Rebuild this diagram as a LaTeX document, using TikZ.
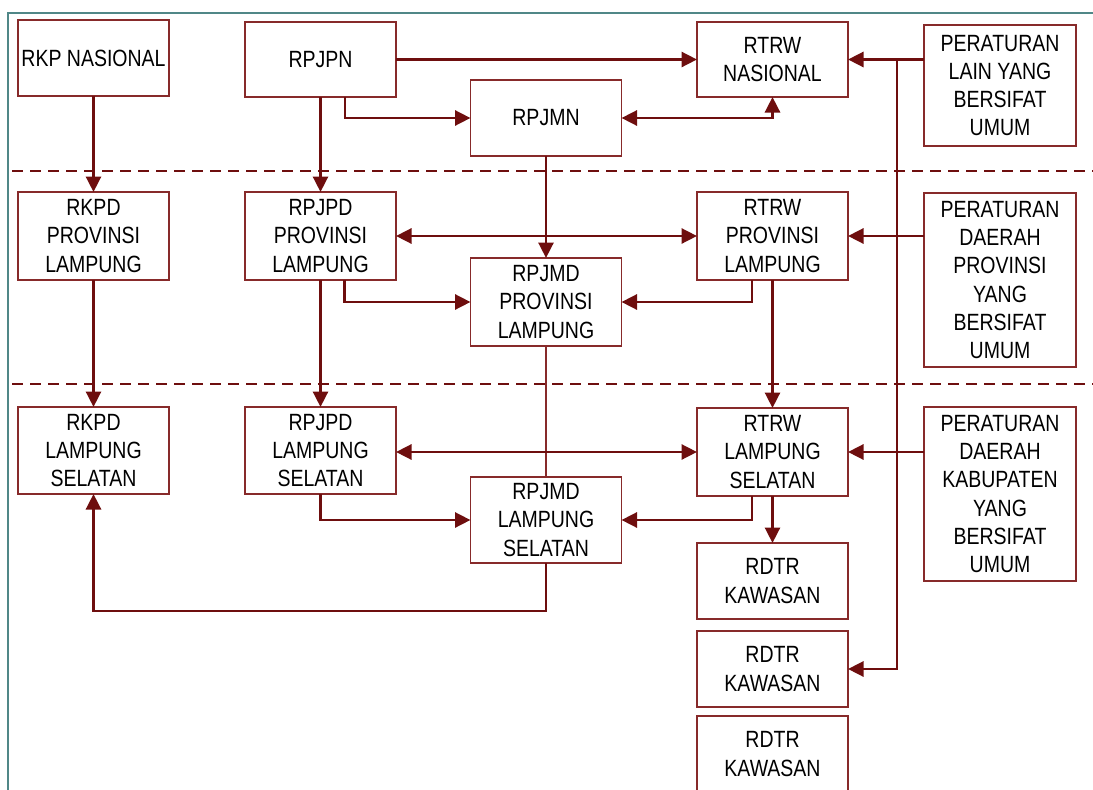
\documentclass[tikz,border=0pt]{standalone}
\usepackage{fontspec}
\setmainfont[FakeStretch=0.83]{Liberation Sans}
\usetikzlibrary{arrows.meta}
\definecolor{arrred}{RGB}{110,14,14}
\definecolor{boxred}{RGB}{135,42,42}
\definecolor{frameteal}{RGB}{80,135,135}
\tikzset{
  box/.style={draw=boxred, line width=1.8pt, inner sep=0pt, outer sep=0pt,
    minimum width=151pt, align=center, font=\fontsize{23.5}{28.2}\selectfont},
  arr/.style={draw=arrred, line width=2.8pt, -{Triangle[length=15.5pt,width=15pt]}},
  arrboth/.style={draw=arrred, line width=2.8pt, {Triangle[length=15.5pt,width=15pt]}-{Triangle[length=15.5pt,width=15pt]}},
  plainline/.style={draw=boxred, line width=1.9pt},
  dashline/.style={draw=arrred, line width=2.5pt, dash pattern=on 11pt off 7pt},
  frameline/.style={draw=frameteal, line width=2pt}
}
\begin{document}
\begin{tikzpicture}[x=1pt,y=-1pt]
\useasboundingbox (0,0) rectangle (1093,790);
\draw[frameline] (8,795) -- (8,13) -- (1098,13);
\draw[dashline] (12,171) -- (1093,171);
\draw[dashline] (12,384) -- (1093,384);

% row 1
\node[box, minimum height=76pt] (rkpn) at (93.5,58) {RKP NASIONAL};
\node[box, minimum height=75pt] (rpjpn) at (320.5,59.5) {RPJPN};
\node[box, minimum height=75pt] (rtrwn) at (772.5,59.5) {RTRW\\NASIONAL};
\node[box, minimum height=121pt, minimum width=152pt] (perlain) at (1000,85.5) {PERATURAN\\LAIN YANG\\BERSIFAT\\UMUM};
\node[box, minimum height=76pt] (rpjmn) at (546,118) {RPJMN};

% row 2
\node[box, minimum height=88pt] (rkpdp) at (93.5,236) {RKPD\\PROVINSI\\LAMPUNG};
\node[box, minimum height=88pt] (rpjpdp) at (320.5,236) {RPJPD\\PROVINSI\\LAMPUNG};
\node[box, minimum height=88pt] (rtrwp) at (772.5,236) {RTRW\\PROVINSI\\LAMPUNG};
\node[box, minimum height=174pt, minimum width=152pt] (perprov) at (1000,280) {PERATURAN\\DAERAH\\PROVINSI\\YANG\\BERSIFAT\\UMUM};
\node[box, minimum height=88pt] (rpjmdp) at (546,302) {RPJMD\\PROVINSI\\LAMPUNG};

% row 3
\node[box, minimum height=87pt] (rkpdls) at (93.5,450.5) {RKPD\\LAMPUNG\\SELATAN};
\node[box, minimum height=87pt] (rpjpdls) at (320.5,450.5) {RPJPD\\LAMPUNG\\SELATAN};
\node[box, minimum height=88pt] (rtrwls) at (772.5,452) {RTRW\\LAMPUNG\\SELATAN};
\node[box, minimum height=174pt, minimum width=152pt] (perkab) at (1000,494) {PERATURAN\\DAERAH\\KABUPATEN\\YANG\\BERSIFAT\\UMUM};
\node[box, minimum height=86pt] (rpjmdls) at (546,520) {RPJMD\\LAMPUNG\\SELATAN};
\node[box, minimum height=76pt] (rdtra) at (772.5,581) {RDTR\\KAWASAN};
\node[box, minimum height=76pt] (rdtrb) at (772.5,669) {RDTR\\KAWASAN};
\node[box, minimum height=76pt] (rdtrc) at (772.5,754) {RDTR\\KAWASAN};

% connectors row 1
\draw[arr] (rkpn) -- (rkpdp);
\draw[arr] (rpjpn) -- (rpjpdp);
\draw[arr] ([xshift=24.5pt]rpjpn.south) |- (rpjmn.west);
\draw[arr] (rpjpn.east) -- (rtrwn.west);
\draw[arrboth] (rpjmn.east) -| (rtrwn.south);
\draw[arr] (perlain.west |- rtrwn.east) -- (rtrwn.east);
\coordinate (bus) at ([xshift=49pt]rtrwn.east);
\draw[arr] (bus) |- (rdtrb.east);
\draw[arr] (rpjmn) -- (rpjmdp);

% connectors row 2
\draw[arrboth] (rpjpdp.east) -- (rtrwp.west);
\draw[arr] ([xshift=24pt]rpjpdp.south) |- (rpjmdp.west);
\draw[arr] ([xshift=-20.5pt]rtrwp.south) |- (rpjmdp.east);
\draw[arr] (perprov.west |- rtrwp.east) -- (rtrwp.east);
\draw[arr] (rkpdp) -- (rkpdls);
\draw[arr] (rpjpdp) -- (rpjpdls);
\draw[arr] (rtrwp) -- (rtrwls);
\draw[plainline] (rpjmdp) -- (rpjmdls);

% connectors row 3
\draw[arrboth] (rtrwls.west -| rpjpdls.east) -- (rtrwls.west);
\draw[arr] (rpjpdls.south) |- (rpjmdls.west);
\draw[arr] ([xshift=-20.5pt]rtrwls.south) |- (rpjmdls.east);
\draw[arr] (rtrwls) -- (rdtra);
\draw[arr] (perkab.west |- rtrwls.east) -- (rtrwls.east);
\draw[arr] (rpjmdls.south) -- ++(0,48) -| (rkpdls.south);
\end{tikzpicture}
\end{document}
